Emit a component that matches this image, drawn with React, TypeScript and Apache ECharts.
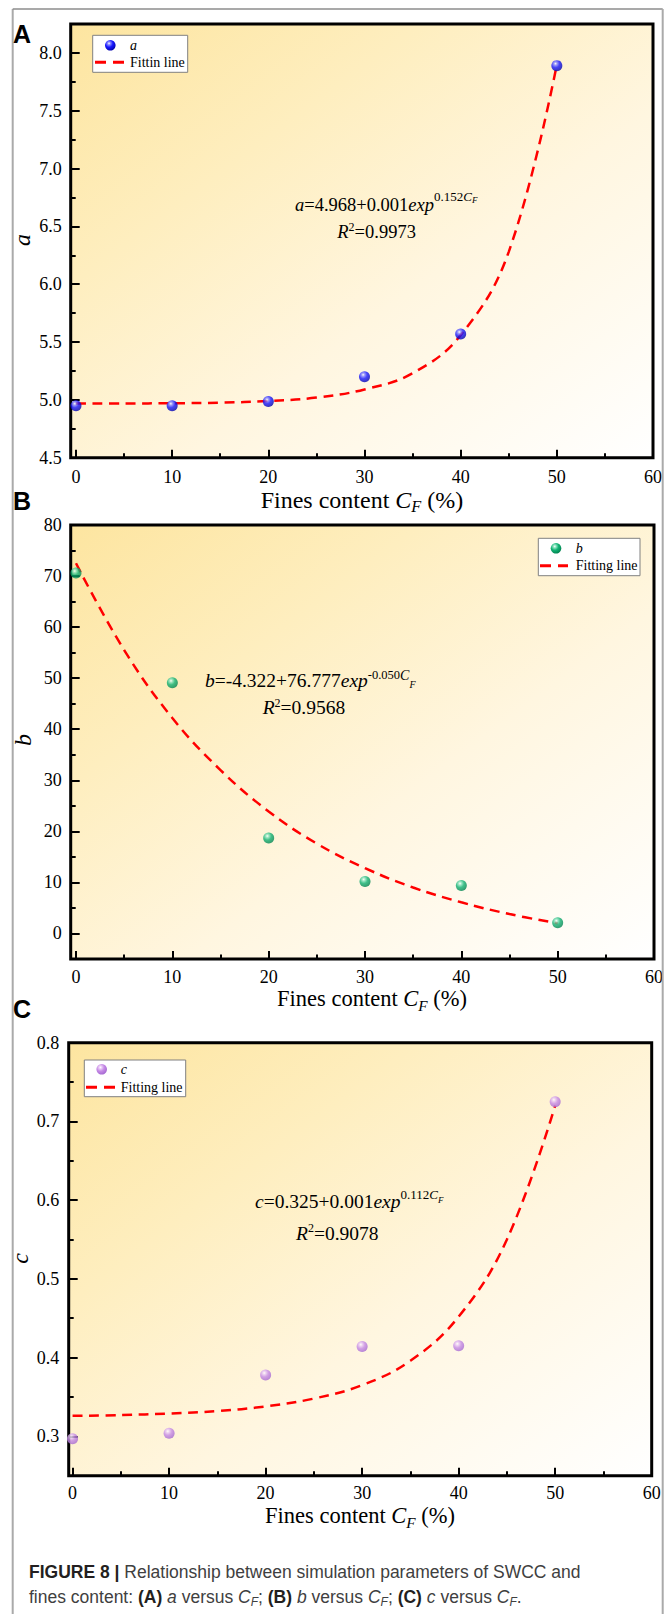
import React, { useEffect, useRef } from "react";
import * as echarts from "echarts";

// ---------- data ----------
const CF = [0, 10, 20, 30, 40, 50];
const A_VALUES = [4.95, 4.95, 4.985, 5.2, 5.57, 7.89];
const B_VALUES = [70.6, 49.1, 18.7, 10.2, 9.4, 2.1];
const C_VALUES = [0.297, 0.304, 0.378, 0.414, 0.415, 0.725];

const FIT_CF = [0, 5, 10, 15, 20, 25, 30, 35, 40, 45, 50];
const A_FIT = [4.968, 4.969, 4.971, 4.976, 4.99, 5.02, 5.09, 5.23, 5.56, 6.28, 7.9];
const B_FIT = [72.5, 55.5, 42.2, 32.0, 23.9, 17.6, 12.8, 9.0, 6.1, 3.8, 2.0];
const C_FIT = [0.326, 0.327, 0.329, 0.332, 0.338, 0.348, 0.365, 0.396, 0.452, 0.55, 0.72];

const X_TICKS = [0, 10, 20, 30, 40, 50, 60];
const X_MINOR_TICKS = [5, 15, 25, 35, 45, 55];
const A_TICKS = [4.5, 5, 5.5, 6, 6.5, 7, 7.5, 8];
const A_MINOR_TICKS = [4.75, 5.25, 5.75, 6.25, 6.75, 7.25, 7.75];
const B_TICKS = [0, 10, 20, 30, 40, 50, 60, 70, 80];
const B_MINOR_TICKS = [5, 15, 25, 35, 45, 55, 65, 75];
const C_TICKS = [0.3, 0.4, 0.5, 0.6, 0.7, 0.8];
const C_MINOR_TICKS = [0.35, 0.45, 0.55, 0.65, 0.75];

const SERIF = "'Liberation Serif', 'Times New Roman', Times, serif";
const SANS = "'Liberation Sans', Arial, Helvetica, sans-serif";

const bg = () =>
  new echarts.graphic.LinearGradient(0, 0, 1, 1, [
    { offset: 0, color: "#FDE5A0" },
    { offset: 0.3, color: "#FEEEBF" },
    { offset: 0.6, color: "#FFF6E0" },
    { offset: 1, color: "#FFFFFF" },
  ]);

const ball = (c: string[]) =>
  new echarts.graphic.RadialGradient(0.38, 0.32, 0.72, [
    { offset: 0, color: c[0] },
    { offset: 0.18, color: c[1] },
    { offset: 0.5, color: c[2] },
    { offset: 1, color: c[3] },
  ]);

const BLUE = ["#FFFFFF", "#8C8CFF", "#1818FF", "#0000A8"];
const GREEN = ["#FFFFFF", "#8FE6C2", "#12B274", "#00804D"];
const PURPLE = ["#FFFFFF", "#EBCDF7", "#C68BE6", "#A366D0"];

const PANELS = [
  {
    grid: { left: 70.7, top: 24, width: 582.3, height: 433.7 },
    xMin: -0.55, yMin: 4.5, yMax: 8.25,
    yTicks: A_TICKS, yMinor: A_MINOR_TICKS, yDigits: 1,
    values: A_VALUES, fit: A_FIT, colors: BLUE,
    xLabelMargin: 10, yLabelMargin: 9, name: "a", fitName: "Fittin line",
  },
  {
    grid: { left: 70.7, top: 525, width: 583.3, height: 434 },
    xMin: -0.55, yMin: -5, yMax: 80,
    yTicks: B_TICKS, yMinor: B_MINOR_TICKS, yDigits: 0,
    values: B_VALUES, fit: B_FIT, colors: GREEN,
    xLabelMargin: 8.7, yLabelMargin: 9, name: "b", fitName: "Fitting line",
  },
  {
    grid: { left: 68.7, top: 1042.7, width: 583, height: 433 },
    xMin: -0.4, yMin: 0.25, yMax: 0.8,
    yTicks: C_TICKS, yMinor: C_MINOR_TICKS, yDigits: 1,
    values: C_VALUES, fit: C_FIT, colors: PURPLE,
    xLabelMargin: 8.6, yLabelMargin: 9.4, name: "c", fitName: "Fitting line",
  },
];

const tickStyle = { color: "#000", width: 2 };
const labelStyle = { color: "#000", fontSize: 18, fontFamily: SERIF };

function txt(x: number, y: number, text: string, st: any, extra: any = {}) {
  return {
    type: "text",
    x,
    y,
    z: 20,
    silent: true,
    ...extra,
    style: {
      text,
      fill: "#000",
      align: "left",
      textAlign: "left",
      verticalAlign: "middle",
      textVerticalAlign: "middle",
      ...st,
    },
  };
}

function rich(x: number, y: number, text: string, richStyles: any, align = "left", extra: any = {}) {
  return txt(x, y, text, { rich: richStyles, align, textAlign: align }, extra);
}

// shifted token: offset < 0 raises, offset > 0 lowers (via padding)
function shifted(base: any, offset: number) {
  const p = Math.abs(offset) * 2;
  return {
    ...base,
    verticalAlign: "middle",
    padding: offset < 0 ? [0, 0, p, 0] : [p, 0, 0, 0],
  };
}

function xTitle(cx: number, cy: number, fs: number) {
  const n = { fontSize: fs, fontFamily: SERIF, lineHeight: 30, verticalAlign: "middle", fill: "#000" };
  return rich(
    cx,
    cy,
    "{n|Fines content }{i|C}{s|F}{n| (%)}",
    {
      n,
      i: { ...n, fontStyle: "italic" },
      s: shifted({ fontSize: fs * 0.68, fontFamily: SERIF, fontStyle: "italic", fill: "#000" }, 7),
    },
    "center"
  );
}

function eqStyles(fs: number, supFs: number, supOff: number, cFs: number, fFs: number, fOff: number, rOff: number) {
  const n = { fontSize: fs, fontFamily: SERIF, lineHeight: 30, verticalAlign: "middle", fill: "#000" };
  return {
    n,
    m: { ...n, fontStyle: "italic" },
    s: shifted({ fontSize: supFs, fontFamily: SERIF, fill: "#000" }, supOff),
    si: shifted({ fontSize: cFs, fontFamily: SERIF, fontStyle: "italic", fill: "#000" }, supOff),
    ss: shifted({ fontSize: fFs, fontFamily: SERIF, fontStyle: "italic", fill: "#000" }, fOff),
    r: shifted({ fontSize: 12, fontFamily: SERIF, fill: "#000" }, rOff),
  };
}

function legend(bx: number, by: number, bw: number, bh: number, cx: number, cy: number, tx: number, lx1: number, lx2: number, ly: number, name: string, fitName: string, colors: string[]) {
  return [
    {
      type: "rect",
      z: 18,
      silent: true,
      shape: { x: bx, y: by, width: bw, height: bh },
      style: { fill: "#FFFFFF", stroke: "#808080", lineWidth: 1 },
    },
    {
      type: "circle",
      z: 19,
      silent: true,
      shape: { cx, cy, r: 5.3 },
      style: { fill: ball(colors) },
    },
    txt(tx, cy, name, { fontSize: 14, fontFamily: SERIF, fontStyle: "italic" }),
    {
      type: "line",
      z: 19,
      silent: true,
      shape: { x1: lx1, y1: ly, x2: lx2, y2: ly },
      style: { stroke: "#FF0000", lineWidth: 3, lineDash: [11, 7] },
    },
    txt(tx, ly, fitName, { fontSize: 14, fontFamily: SERIF }),
  ];
}

function buildOption() {
  const xAxis: any[] = [];
  const yAxis: any[] = [];
  const series: any[] = [];
  const noLine = { show: false, onZero: false };
  PANELS.forEach((p, i) => {
    xAxis.push({
      type: "value", gridIndex: i, position: "bottom", min: p.xMin, max: 60,
      axisLine: noLine, splitLine: { show: false },
      axisTick: { show: true, inside: true, length: 8, lineStyle: tickStyle, customValues: X_TICKS },
      axisLabel: { show: true, customValues: X_TICKS, margin: p.xLabelMargin, ...labelStyle, formatter: (v: number) => String(v) },
    });
    xAxis.push({
      type: "value", gridIndex: i, position: "bottom", min: p.xMin, max: 60,
      axisLine: noLine, splitLine: { show: false }, axisLabel: { show: false },
      axisTick: { show: true, inside: true, length: 4.5, lineStyle: tickStyle, customValues: X_MINOR_TICKS },
    });
    yAxis.push({
      type: "value", gridIndex: i, position: "left", min: p.yMin, max: p.yMax,
      axisLine: noLine, splitLine: { show: false },
      axisTick: { show: true, inside: true, length: 9, lineStyle: tickStyle, customValues: p.yTicks },
      axisLabel: { show: true, customValues: p.yTicks, margin: p.yLabelMargin, ...labelStyle, formatter: (v: number) => v.toFixed(p.yDigits) },
    });
    yAxis.push({
      type: "value", gridIndex: i, position: "left", min: p.yMin, max: p.yMax,
      axisLine: noLine, splitLine: { show: false }, axisLabel: { show: false },
      axisTick: { show: true, inside: true, length: 5, lineStyle: tickStyle, customValues: p.yMinor },
    });
    series.push({
      type: "line", name: p.fitName, xAxisIndex: 2 * i, yAxisIndex: 2 * i,
      data: FIT_CF.map((x, j) => [x, p.fit[j]]),
      smooth: 0.4, showSymbol: false, symbol: "none",
      lineStyle: { color: "#FF0000", width: 2.5, type: [10, 6.5] },
      z: 3, silent: true,
    });
    series.push({
      type: "scatter", name: p.name, xAxisIndex: 2 * i, yAxisIndex: 2 * i,
      data: CF.map((x, j) => [x, p.values[j]]),
      symbolSize: 11,
      itemStyle: { color: ball(p.colors) },
      z: 4, silent: true,
    });
  });

  const frameStroke = "#AAAAAA";
  const elements: any[] = [
    { type: "line", z: 1, silent: true, shape: { x1: 12.7, y1: 9, x2: 12.7, y2: 1614 }, style: { stroke: frameStroke, lineWidth: 2 } },
    { type: "line", z: 1, silent: true, shape: { x1: 12.7, y1: 9, x2: 662.7, y2: 9 }, style: { stroke: "#8C8C8C", lineWidth: 1.5 } },
    { type: "line", z: 1, silent: true, shape: { x1: 662.7, y1: 9, x2: 662.7, y2: 1614 }, style: { stroke: frameStroke, lineWidth: 2 } },

    // panel letters
    txt(13, 34, "A", { fontSize: 25, fontFamily: SANS, fontWeight: "bold" }),
    txt(13, 501, "B", { fontSize: 25, fontFamily: SANS, fontWeight: "bold" }),
    txt(13, 1009, "C", { fontSize: 25, fontFamily: SANS, fontWeight: "bold" }),

    // x titles
    xTitle(362, 499.5, 24),
    xTitle(372, 998.3, 22.5),
    xTitle(360, 1515.5, 22.5),

    // y titles
    txt(21.7, 240, "a", { fontSize: 24, fontFamily: SERIF, fontStyle: "italic", align: "center", textAlign: "center" }, { rotation: Math.PI / 2 }),
    txt(23.3, 740, "b", { fontSize: 24, fontFamily: SERIF, fontStyle: "italic", align: "center", textAlign: "center" }, { rotation: Math.PI / 2 }),
    txt(20, 1258.3, "c", { fontSize: 24, fontFamily: SERIF, fontStyle: "italic", align: "center", textAlign: "center" }, { rotation: Math.PI / 2 }),

    // equations
    rich(295, 205, "{m|a}{n|=4.968+0.001}{m|exp}{s|0.152}{si|C}{ss|F}", eqStyles(18.5, 13, -9, 13, 9, -5, -5)),
    rich(337.3, 231.7, "{m|R}{r|2}{n|=0.9973}", eqStyles(18.5, 13, -9, 13, 9, -5, -5)),
    rich(205, 680, "{m|b}{n|=-4.322+76.777}{m|exp}{s|-0.050}{si|C}{ss|F}", eqStyles(19.5, 12.5, -5, 14, 10, 4, -5)),
    rich(262.7, 707.5, "{m|R}{r|2}{n|=0.9568}", eqStyles(19.5, 12.5, -5, 14, 10, 4, -5)),
    rich(255, 1201.5, "{m|c}{n|=0.325+0.001}{m|exp}{s|0.112}{si|C}{ss|F}", eqStyles(19.5, 13, -7, 13, 9, -2, -5)),
    rich(296, 1233.3, "{m|R}{r|2}{n|=0.9078}", eqStyles(19.5, 13, -7, 13, 9, -2, -5)),

    // legends
    ...legend(92.7, 35.3, 95, 37, 110.3, 45.3, 130, 95, 124, 62.3, "a", "Fittin line", BLUE),
    ...legend(538.3, 538.3, 101.7, 37.4, 556, 548.3, 575.7, 540, 568, 565.7, "b", "Fitting line", GREEN),
    ...legend(84.3, 1060, 101.4, 36.7, 101.7, 1069.3, 120.7, 86, 115, 1087.3, "c", "Fitting line", PURPLE),
  ];

  // caption
  const capN = { fontSize: 17.5, fontFamily: SANS, fill: "#404040", lineHeight: 24, verticalAlign: "middle" };
  const capB = { ...capN, fontWeight: "bold", fill: "#231F20" };
  const capI = { ...capN, fontStyle: "italic" };
  const capS = shifted({ fontSize: 12, fontFamily: SANS, fontStyle: "italic", fill: "#404040" }, 5);
  const capRich = { n: capN, b: capB, i: capI, s: capS };
  elements.push(
    rich(29, 1571.7, "{b|FIGURE 8 | }{n|Relationship between simulation parameters of SWCC and}", capRich),
    rich(
      29,
      1597.3,
      "{n|fines content: }{b|(A)}{i| a}{n| versus }{i|C}{s|F}{n|; }{b|(B)}{i| b}{n| versus }{i|C}{s|F}{n|; }{b|(C)}{i| c}{n| versus }{i|C}{s|F}{n|.}",
      capRich
    )
  );

  return {
    animation: false,
    backgroundColor: "#FFFFFF",
    grid: PANELS.map((p) => ({
      ...p.grid,
      show: true,
      backgroundColor: bg(),
      borderColor: "#000",
      borderWidth: 3,
      containLabel: false,
      outerBoundsMode: "none",
    })),
    xAxis,
    yAxis,
    series,
    graphic: { elements },
  };
}

export default function App() {
  const ref = useRef<HTMLDivElement>(null);
  useEffect(() => {
    if (!ref.current) return;
    const chart = echarts.init(ref.current, undefined, { renderer: "svg" });
    chart.setOption(buildOption() as any);
    return () => chart.dispose();
  }, []);
  return (
    <div
      ref={ref}
      style={{ position: "absolute", left: 0, top: 0, width: 671, height: 1614, background: "#fff" }}
    />
  );
}
